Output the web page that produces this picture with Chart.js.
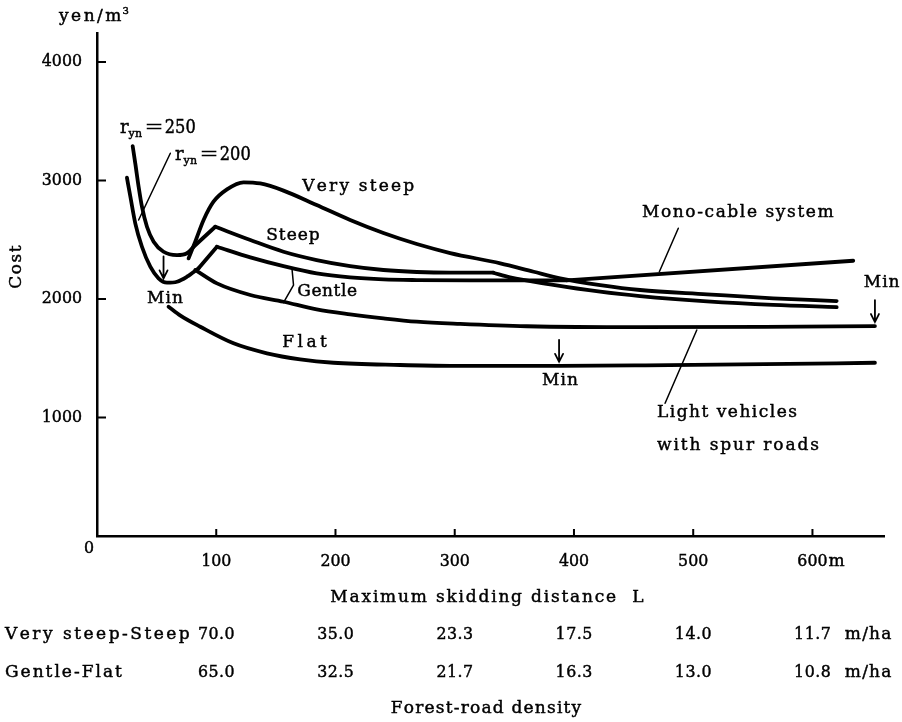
<!DOCTYPE html>
<html>
<head>
<meta charset="utf-8">
<script src="https://cdn.jsdelivr.net/npm/chart.js@4.4.1/dist/chart.umd.min.js"></script>
<style>
  html, body { margin: 0; padding: 0; background: #fff; }
  canvas { display: block; }
</style>
</head>
<body>
<canvas id="chart" width="902" height="722"></canvas>
<script>
// Skidding cost (yen/m³) against maximum skidding distance L (m)

// r_yn = 250 branch (descending part down to its minimum)
const r250X = [29.9, 32.1, 34.9, 37.7, 41.9, 47.5, 55.8, 67.1, 75.4, 81.0];
const r250Y = [3291, 3145, 2948, 2779, 2610, 2484, 2399, 2371, 2386, 2441];
// Steep: straight climb to the peak, decline, then the tail after the kink
const steepRiseX = [81.0, 99.2];
const steepRiseY = [2441, 2610];
const steepX = [99.2, 128.6, 156.4, 184.2, 212.3, 240.2, 268.2, 296.2, 332.4];
const steepY = [2610, 2498, 2399, 2329, 2278, 2245, 2228, 2222, 2222];
const steepTailX = [332.4, 346.4, 380.0, 422.0, 455.4, 511.6, 567.0, 620.3];
const steepTailY = [2222, 2183, 2124, 2062, 2025, 1980, 1950, 1932];
// Very steep
const veryX = [76.8, 82.4, 89.4, 97.7, 109.0, 122.9, 136.9, 156.4, 184.2, 212.3, 240.2, 268.2, 296.2, 338.2, 366.2, 388.4, 422.0, 455.4, 511.6, 567.0, 620.3];
const veryY = [2343, 2484, 2667, 2821, 2925, 2985, 2975, 2915, 2793, 2667, 2557, 2464, 2388, 2301, 2230, 2175, 2118, 2076, 2040, 2006, 1983];
// r_yn = 200 branch
const r200X = [25.1, 28.0, 32.1, 37.7, 44.7, 51.6, 58.7, 67.1, 75.4, 85.2];
const r200Y = [3024, 2863, 2639, 2441, 2273, 2175, 2138, 2146, 2188, 2259];
// Gentle (upper line)
const gentleRiseX = [85.2, 100.6];
const gentleRiseY = [2259, 2441];
const gentleX = [100.6, 128.6, 156.4, 184.2, 212.3, 240.2, 268.2, 312.9, 394.0];
const gentleY = [2441, 2352, 2278, 2217, 2183, 2166, 2160, 2157, 2158];
// Mono-cable system
const monoX = [394.0, 634.2];
const monoY = [2158, 2323];
// Gentle (lower line) continuing as light vehicles with spur roads
const lightX = [82.4, 100.6, 128.6, 156.4, 184.2, 212.3, 240.2, 268.2, 304.5, 360.4, 455.4, 560.0, 652.4];
const lightY = [2245, 2132, 2034, 1977, 1913, 1871, 1837, 1809, 1790, 1770, 1762, 1765, 1772];
// Flat
const flatX = [60.0, 70.0, 86.6, 114.5, 142.5, 170.4, 198.3, 254.2, 296.2, 387.5, 460.0, 560.0, 652.4];
const flatY = [1935, 1860, 1766, 1626, 1542, 1491, 1462, 1443, 1436, 1436, 1440, 1450, 1462];

// Minimum-cost points marked with arrows
const minX = [55.8, 387.5, 652.4];
const minY = [2140, 1436, 1772];

// Leader lines
const ryn200LeaderX = [61.5, 34.9];
const ryn200LeaderY = [3230, 2667];
const gentleBraceX = [163.5, 164.8, 156.4];
const gentleBraceY = [2259, 2118, 1969];
const monoLeaderX = [487.5, 471.6];
const monoLeaderY = [2597, 2230];
const lightLeaderX = [503.0, 476.4];
const lightLeaderY = [1738, 1120];

// Axis ticks and the forest-road density rows
const xTickValues = [100, 200, 300, 400, 500, 600];
const xTickLabels = ['100', '200', '300', '400', '500', '600'];
const yTickValues = [1000, 2000, 3000, 4000];
const yTickLabels = ['1000', '2000', '3000', '4000'];
const densitySteep = ['70.0', '35.0', '23.3', '17.5', '14.0', '11.7'];
const densityGentle = ['65.0', '32.5', '21.7', '16.3', '13.0', '10.8'];

const FONT = '"DejaVu Serif", "Liberation Serif", serif';
const SIZE = 17;

function pts(xs, ys) { return xs.map((v, i) => ({ x: v, y: ys[i] })); }

function curve(xs, ys) {
  return { data: pts(xs, ys), showLine: true, borderColor: '#000', borderWidth: 3.8,
    pointRadius: 0, cubicInterpolationMode: 'monotone', borderCapStyle: 'round',
    borderJoinStyle: 'round', fill: false, clip: false };
}
function straight(xs, ys, w) {
  return { data: pts(xs, ys), showLine: true, borderColor: '#000', borderWidth: w || 3.8,
    pointRadius: 0, tension: 0, borderCapStyle: 'round', borderJoinStyle: 'round',
    fill: false, clip: false };
}

// draw text with extra spacing between characters (optionally narrowed)
function spaced(ctx, str, x, y, align, spacing, hscale) {
  const k = hscale || 1;
  const chars = Array.from(str);
  const widths = chars.map(c => ctx.measureText(c).width * k);
  const total = widths.reduce((a, b) => a + b, 0) + spacing * (chars.length - 1);
  let sx = align === 'center' ? x - total / 2 : (align === 'right' ? x - total : x);
  ctx.textAlign = 'left';
  chars.forEach((c, i) => {
    ctx.save();
    ctx.translate(sx, y);
    ctx.scale(k, 1);
    ctx.fillText(c, 0, 0);
    ctx.strokeText(c, 0, 0);
    ctx.restore();
    sx += widths[i] + spacing;
  });
  return total;
}

const decor = {
  id: 'decor',
  afterDatasetsDraw(chart) {
    const { ctx, chartArea } = chart;
    const xs = chart.scales.x, ys = chart.scales.y;
    const X = v => xs.getPixelForValue(v);
    const Y = v => ys.getPixelForValue(v);
    const font = s => { ctx.font = s + 'px ' + FONT; };
    ctx.save();

    // tick marks pointing into the plot
    ctx.strokeStyle = '#000';
    ctx.lineWidth = 2;
    ctx.beginPath();
    xTickValues.forEach(v => { ctx.moveTo(X(v), chartArea.bottom); ctx.lineTo(X(v), chartArea.bottom - 7); });
    yTickValues.forEach(v => { ctx.moveTo(chartArea.left, Y(v)); ctx.lineTo(chartArea.left + 9, Y(v)); });
    ctx.stroke();

    ctx.fillStyle = '#000';
    ctx.lineWidth = 0.45;
    ctx.textBaseline = 'middle';
    const NUM = 0.93;

    // tick labels
    font(SIZE);
    yTickValues.forEach((v, i) => spaced(ctx, yTickLabels[i], chartArea.left - 15, Y(v), 'right', 0, NUM));
    xTickValues.forEach((v, i) => {
      const w = spaced(ctx, xTickLabels[i], X(v), chartArea.bottom + 26, 'center', 0, NUM);
      if (i === xTickValues.length - 1) spaced(ctx, 'm', X(v) + w / 2 + 1, chartArea.bottom + 26, 'left', 0);
    });
    spaced(ctx, '0', chartArea.left - 8, chartArea.bottom + 13, 'center', 0, NUM);

    // axis titles
    const wy = spaced(ctx, 'yen/m', 59, 17, 'left', 2.5);
    font(10);
    spaced(ctx, '3', 59 + wy + 1, 11, 'left', 0);
    font(SIZE);
    ctx.save();
    ctx.translate(17, 267);
    ctx.rotate(-Math.PI / 2);
    spaced(ctx, 'Cost', 0, 0, 'center', 1.5);
    ctx.restore();
    spaced(ctx, 'Maximum skidding distance  L', 487, 598, 'center', 1.8);

    // forest-road density rows
    spaced(ctx, 'Very steep-Steep', 5, 635, 'left', 2.5);
    spaced(ctx, 'Gentle-Flat', 5, 673, 'left', 2);
    [[densitySteep, 635], [densityGentle, 673]].forEach(([row, ty]) => {
      row.forEach((s, i) => {
        const w = spaced(ctx, s, X(xTickValues[i]), ty, 'center', 0.5, NUM);
        if (i === row.length - 1) spaced(ctx, 'm/ha', X(xTickValues[i]) + w / 2 + 14, ty, 'left', 1.2);
      });
    });
    spaced(ctx, 'Forest-road density', 486, 709, 'center', 1.2);

    // curve labels
    spaced(ctx, 'Very steep', X(172.2), Y(2945), 'left', 2.2);
    spaced(ctx, 'Steep', X(141.9), Y(2532), 'left', 1);
    spaced(ctx, 'Gentle', X(167.9), Y(2059), 'left', 0.6);
    spaced(ctx, 'Flat', X(155.3), Y(1629), 'left', 3.5);
    spaced(ctx, 'Mono-cable system', X(457), Y(2726), 'left', 1.6);
    spaced(ctx, 'Light vehicles', X(469.6), Y(1038), 'left', 1.5);
    spaced(ctx, 'with spur roads', X(469.6), Y(759), 'left', 1.9);
    spaced(ctx, 'Min', X(57), Y(2006), 'center', 1);
    spaced(ctx, 'Min', X(388.3), Y(1308), 'center', 1);
    spaced(ctx, 'Min', X(658), Y(2135), 'center', 1);

    // r_yn labels
    const rLabel = (lx, ly, val) => {
      font(18);
      let cx = lx + spaced(ctx, 'r', lx, ly, 'left', 0);
      font(11);
      cx += spaced(ctx, 'yn', cx, ly + 6, 'left', 0.3) + 2;
      font(18);
      ctx.save();
      ctx.translate(cx, ly);
      ctx.scale(1.3, 1);
      ctx.fillText('=', 0, 0);
      ctx.restore();
      cx += ctx.measureText('=').width * 1.3 + 1;
      spaced(ctx, val, cx, ly, 'left', 0, 0.9);
    };
    rLabel(120, 128, '250');
    rLabel(175, 155, '200');

    // minimum arrows
    ctx.lineWidth = 1.8;
    ctx.lineCap = 'round';
    minX.forEach((mx, i) => {
      const px = X(mx), tip = Y(minY[i]) - 4;
      ctx.beginPath();
      ctx.moveTo(px, tip - 22);
      ctx.lineTo(px, tip);
      ctx.moveTo(px - 4, tip - 8);
      ctx.lineTo(px, tip);
      ctx.lineTo(px + 4, tip - 8);
      ctx.stroke();
    });
    ctx.restore();
  }
};

new Chart(document.getElementById('chart'), {
  type: 'scatter',
  data: {
    datasets: [
      curve(r250X, r250Y),
      straight(steepRiseX, steepRiseY),
      curve(steepX, steepY),
      curve(steepTailX, steepTailY),
      curve(veryX, veryY),
      curve(r200X, r200Y),
      straight(gentleRiseX, gentleRiseY),
      curve(gentleX, gentleY),
      straight(monoX, monoY),
      curve(lightX, lightY),
      curve(flatX, flatY),
      straight(ryn200LeaderX, ryn200LeaderY, 1.5),
      straight(gentleBraceX, gentleBraceY, 1.5),
      straight(monoLeaderX, monoLeaderY, 1.5),
      straight(lightLeaderX, lightLeaderY, 1.5)
    ]
  },
  options: {
    responsive: false,
    animation: false,
    devicePixelRatio: 1,
    layout: { padding: { left: 97, top: 33, right: 18, bottom: 186 } },
    plugins: { legend: { display: false }, tooltip: { enabled: false } },
    scales: {
      x: {
        type: 'linear', min: 0, max: 660,
        ticks: { display: false },
        grid: { display: false, drawTicks: false },
        border: { display: true, color: '#000', width: 2.5 }
      },
      y: {
        type: 'linear', min: 0, max: 4245,
        ticks: { display: false },
        grid: { display: false, drawTicks: false },
        border: { display: true, color: '#000', width: 2.5 }
      }
    }
  },
  plugins: [decor]
});
</script>
</body>
</html>
